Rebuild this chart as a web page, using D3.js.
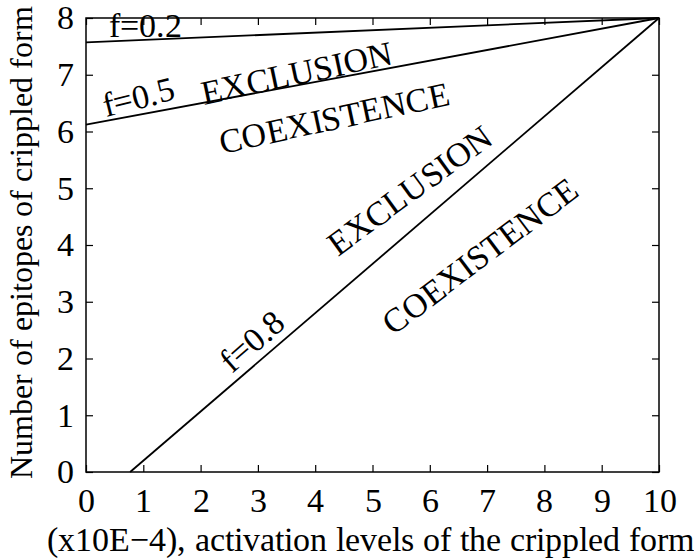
<!DOCTYPE html>
<html>
<head>
<meta charset="utf-8">
<script src="https://cdn.jsdelivr.net/npm/d3@7.9.0/dist/d3.min.js"></script>
<style>
  @font-face {
    font-family: 'ChartSerif';
    src: local('Liberation Serif'), local('LiberationSerif'), local('LiberationSerif-Regular'), local('Times New Roman'), local('Tinos');
  }
  body { margin: 0; background: #fff; }
  #chart text { font-family: 'ChartSerif', 'Liberation Serif', Times, Tinos !important; }
</style>
</head>
<body>
<svg id="chart" width="694" height="560"></svg>
<script>
// boundary lines (x, y) for each f
const lineNames = ['f=0.2', 'f=0.5', 'f=0.8'];
const lineStart = [[0, 7.57], [0, 6.12], [0.77, 0]];
const lineEnd = [[10, 8], [10, 8], [10, 8]];

const xTicks = [0, 1, 2, 3, 4, 5, 6, 7, 8, 9, 10];
const yTicks = [0, 1, 2, 3, 4, 5, 6, 7, 8];

// region labels: text, x, y, angle
const labelText = ['f=0.2', 'f=0.5', 'EXCLUSION', 'COEXISTENCE', 'EXCLUSION', 'COEXISTENCE', 'f=0.8'];
const labelX = [1.03, 0.91, 3.68, 4.33, 5.65, 6.88, 2.90];
const labelY = [7.86, 6.61, 7.03, 6.24, 4.97, 3.81, 2.31];
const labelAngle = [0, -14, -12, -12, -36, -37, -41];

const margin = { left: 86, right: 35, top: 18, bottom: 88 };
const width = 694, height = 560;
const svg = d3.select('#chart');

const x = d3.scaleLinear().domain([0, 10]).range([margin.left, width - margin.right]);
const y = d3.scaleLinear().domain([0, 8]).range([height - margin.bottom, margin.top]);

const fontSize = '34px';

// axes with inward ticks, mirrored on all sides
svg.append('g')
  .attr('transform', `translate(0,${y(0)})`)
  .call(d3.axisBottom(x).tickValues(xTicks).tickSize(-7).tickPadding(16));
svg.append('g')
  .attr('transform', `translate(0,${y(8)})`)
  .call(d3.axisTop(x).tickValues(xTicks).tickSize(-7).tickFormat(''));
svg.append('g')
  .attr('transform', `translate(${x(0)},0)`)
  .call(d3.axisLeft(y).tickValues(yTicks).tickSize(-7).tickPadding(12));
svg.append('g')
  .attr('transform', `translate(${x(10)},0)`)
  .call(d3.axisRight(y).tickValues(yTicks).tickSize(-7).tickFormat(''));

svg.selectAll('.domain').remove();
svg.selectAll('g').attr('font-family', null);
svg.selectAll('.tick line').attr('stroke', '#000').attr('stroke-width', 1.2);
svg.selectAll('.tick text')
  .style('font-size', fontSize)
  .attr('fill', '#000');

svg.append('rect')
  .attr('x', x(0)).attr('y', y(8))
  .attr('width', x(10) - x(0)).attr('height', y(0) - y(8))
  .attr('fill', 'none').attr('stroke', '#000').attr('stroke-width', 1.5);

// boundary lines
lineNames.forEach((name, i) => {
  svg.append('line')
    .attr('x1', x(lineStart[i][0])).attr('y1', y(lineStart[i][1]))
    .attr('x2', x(lineEnd[i][0])).attr('y2', y(lineEnd[i][1]))
    .attr('stroke', '#000').attr('stroke-width', 1.8);
});

labelText.forEach((t, i) => {
  svg.append('text')
    .attr('transform', `translate(${x(labelX[i])},${y(labelY[i])}) rotate(${labelAngle[i]})`)
    .attr('text-anchor', 'middle')
    .attr('dominant-baseline', 'central')
    .style('font-size', fontSize)
    .text(t);
});

// axis titles
svg.append('text')
  .attr('x', (x(0) + x(10)) / 2 - 2)
  .attr('y', 551)
  .attr('text-anchor', 'middle')
  .style('font-size', fontSize)
  .text('(x10E\u22124), activation levels of the crippled form');

svg.append('text')
  .attr('transform', `translate(32,242) rotate(-90)`)
  .attr('text-anchor', 'middle')
  .style('font-size', '32px')
  .text('Number of epitopes of crippled form');
</script>
</body>
</html>
